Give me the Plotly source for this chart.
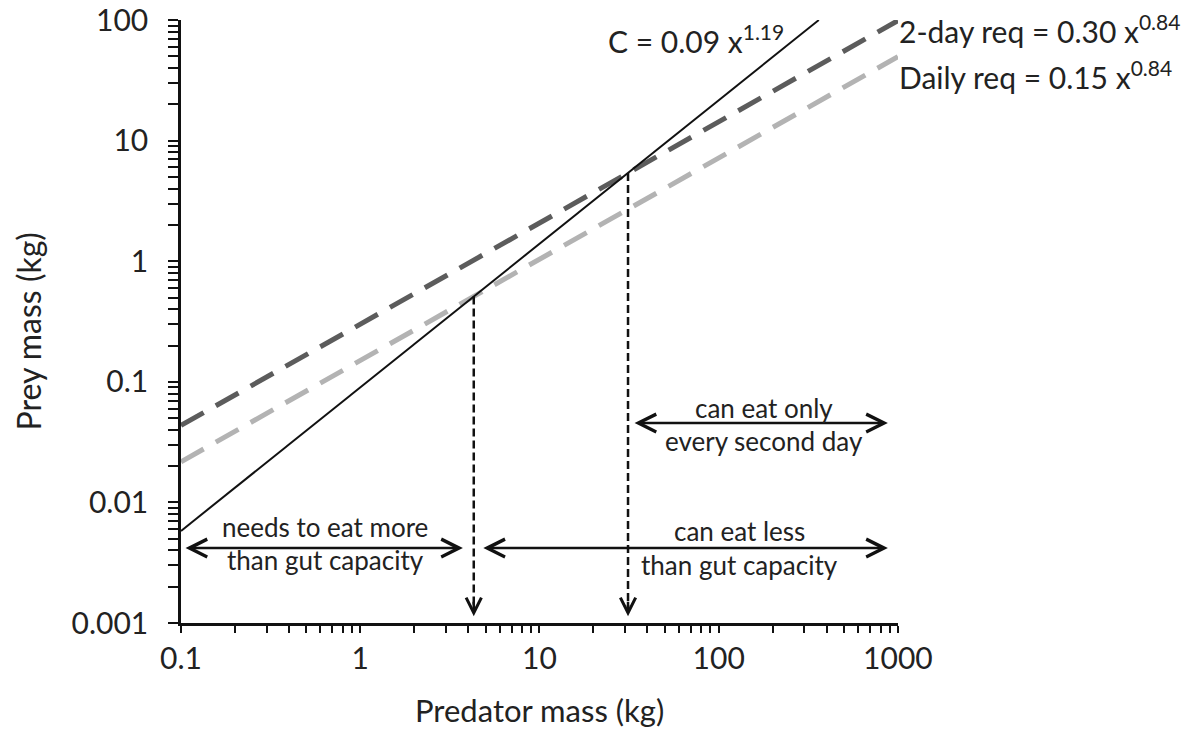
import math

import plotly.graph_objects as go

# Line endpoints (predator mass kg, prey mass kg)
capacity_x = [0.1, 362]
capacity_y = [0.0058, 100]
two_day_x = [0.1, 1000]
two_day_y = [0.0435, 99]
daily_x = [0.1, 1000]
daily_y = [0.0217, 49.7]

# Thresholds where the requirement lines cross gut capacity
cross_x = [4.3, 31.2]
cross_y = [0.51, 5.4]

x_ticks = [0.1, 1, 10, 100, 1000]
x_tick_labels = ["0.1", "1", "10", "100", "1000"]
y_ticks = [0.001, 0.01, 0.1, 1, 10, 100]
y_tick_labels = ["0.001", "0.01", "0.1", "1", "10", "100"]

FONT = "Lato"
TXT = "#222222"
INK = "#111111"

fig = go.Figure()

fig.add_trace(go.Scatter(x=two_day_x, y=two_day_y, mode="lines",
                         line=dict(color="#5c5c5c", width=5, dash="26px,14px")))
fig.add_trace(go.Scatter(x=daily_x, y=daily_y, mode="lines",
                         line=dict(color="#b3b3b3", width=5, dash="26px,14px")))
fig.add_trace(go.Scatter(x=capacity_x, y=capacity_y, mode="lines",
                         line=dict(color=INK, width=2)))

# vertical dashed drop lines
for cx, cy in zip(cross_x, cross_y):
    fig.add_trace(go.Scatter(x=[cx, cx], y=[cy, 0.00125], mode="lines",
                             line=dict(color=INK, width=2.5, dash="8px,4px")))
    fig.add_annotation(x=math.log10(cx), y=math.log10(0.00114), ax=0, ay=-16,
                       showarrow=True, arrowhead=5, arrowwidth=2.5, arrowsize=1.2,
                       arrowcolor=INK, text="")


def double_arrow(x0, x1, y):
    fig.add_annotation(x=math.log10(x1), y=math.log10(y), ax=math.log10(x0), ay=math.log10(y),
                       xref="x", yref="y", axref="x", ayref="y", text="",
                       showarrow=True, arrowhead=5, arrowside="end+start",
                       arrowwidth=2.5, arrowsize=1.4, arrowcolor=INK)


double_arrow(0.104, 3.74, 0.00418)
double_arrow(4.77, 879, 0.00418)
double_arrow(33.3, 879, 0.0455)


def label(text, x, y, size=26, xanchor="center"):
    fig.add_annotation(x=math.log10(x), y=math.log10(y), text=text, showarrow=False,
                       xanchor=xanchor, yanchor="middle",
                       font=dict(family=FONT, size=size, color=TXT))


label("needs to eat more", 0.636, 0.00625)
label("than gut capacity", 0.636, 0.0033)
label("can eat less", 131, 0.00578)
label("than gut capacity", 131, 0.00305)
label("can eat only", 179, 0.0606)
label("every second day", 179, 0.0322)

label("C = 0.09 x<sup>1.19</sup>", 0.1 * 10 ** ((606 - 181) / 179.25), 70, size=30, xanchor="left")
label("2-day req = 0.30 x<sup>0.84</sup>", 990, 84, size=30, xanchor="left")
label("Daily req = 0.15 x<sup>0.84</sup>", 990, 35, size=30, xanchor="left")

# axis titles
fig.add_annotation(x=0.5, y=0, xref="paper", yref="paper", yshift=-87,
                   text="Predator mass (kg)", showarrow=False, xanchor="center", yanchor="middle",
                   font=dict(family=FONT, size=31, color=TXT))
fig.add_annotation(x=0, y=0.5, xref="paper", yref="paper", xshift=-153, yshift=-10,
                   text="Prey mass (kg)", textangle=-90, showarrow=False,
                   xanchor="center", yanchor="middle",
                   font=dict(family=FONT, size=32, color=TXT))

axis_common = dict(
    type="log",
    automargin=False,
    showgrid=False,
    zeroline=False,
    showline=True,
    linecolor=INK,
    linewidth=2.5,
    ticks="outside",
    tickcolor=INK,
    tickwidth=2,
    tickfont=dict(family=FONT, size=30, color=TXT),
    tickmode="array",
    ticklabeloverflow="allow",
)

minor_x = [m * d for d in [0.1, 1, 10, 100] for m in range(2, 10)]
minor_y = [m * d for d in [0.001, 0.01, 0.1, 1, 10] for m in range(2, 10)]

# page body has an 8px margin, so the figure is sized to sit inside the window
fig.update_layout(
    width=1187,
    height=720,
    margin=dict(l=173, r=297, t=12, b=105),
    paper_bgcolor="white",
    plot_bgcolor="white",
    showlegend=False,
    xaxis=dict(
        **axis_common,
        range=[-1, 3.0005],
        tickvals=x_ticks,
        ticktext=x_tick_labels,
        ticklen=7,
        ticklabelstandoff=0,
        minor=dict(tickmode="array", tickvals=minor_x, ticks="outside", ticklen=7,
                   tickwidth=2, tickcolor=INK),
    ),
    yaxis=dict(
        **axis_common,
        range=[-3, 2.0005],
        tickvals=y_ticks,
        ticktext=y_tick_labels,
        ticklen=10,
        ticklabelstandoff=14,
        minor=dict(tickmode="array", tickvals=minor_y, ticks="outside", ticklen=10,
                   tickwidth=2, tickcolor=INK),
    ),
)

fig.write_html("out.html")
